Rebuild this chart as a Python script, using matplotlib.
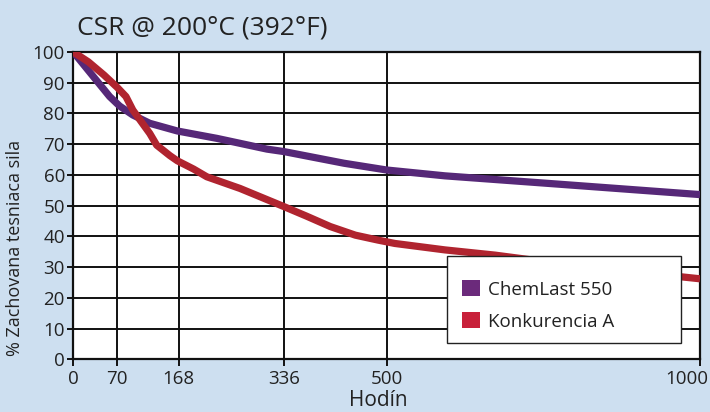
import matplotlib
matplotlib.use("Agg")
import matplotlib.pyplot as plt
from matplotlib.patches import Patch, Rectangle
from matplotlib.transforms import ScaledTranslation

plt.rcParams['font.family'] = ['Open Sans', 'DejaVu Sans']

title = "CSR @ 200°C (392°F)"
ylabel = "% Zachovana tesniaca sila"
xlabel = "Hodín"
series_names = ["ChemLast 550", "Konkurencia A"]

xticks = [0, 70, 168, 336, 500, 1000]
yticks = [0, 10, 20, 30, 40, 50, 60, 70, 80, 90, 100]

chem_h = [0, 24, 58, 74, 95, 122, 166, 229, 309, 336, 432, 500, 593, 754, 1000]
chem_v = [100, 94, 85.5, 82.4, 79.5, 76.8, 74.3, 71.9, 68.4, 67.6, 63.8, 61.6, 59.7, 57.3, 53.6]

konk_h = [0, 24, 49, 70, 84, 95, 122, 133, 154, 166, 192, 213, 266, 336, 372, 410, 450, 486, 513, 593, 673, 800, 1000]
konk_v = [100, 96.8, 92.5, 88.5, 85.5, 81.1, 73.5, 69.7, 66.3, 64.6, 61.9, 59.4, 55.6, 49.7, 46.6, 43.2, 40.4, 38.8, 37.7, 35.6, 33.9, 30.5, 26.2]

bg = '#cddff0'
line_cols = ['#562878', '#b0242f']
leg_cols = ['#6b2a7b', '#c8213a']

fig = plt.figure(figsize=(7.1, 4.12), dpi=100, facecolor=bg)
W, H = 710, 412
L, R, T, B = 73.3, 700, 52, 359.3
ax = fig.add_axes([L / W, 1 - B / H, (R - L) / W, (B - T) / H])
ax.set_facecolor('white')

ax.plot(chem_h, chem_v, color=line_cols[0], lw=5.2, solid_joinstyle='round', solid_capstyle='butt', zorder=3)
ax.plot(konk_h, konk_v, color=line_cols[1], lw=5.2, solid_joinstyle='round', solid_capstyle='butt', zorder=4)

ax.set_xlim(0, 1000)
ax.set_ylim(0, 100)
ax.set_xticks(xticks)
ax.set_yticks(yticks)
ax.set_xticklabels([str(t) for t in xticks])
ax.set_yticklabels([str(t) for t in yticks])
ax.grid(True, color='#111111', lw=1.4, zorder=1)
ax.set_axisbelow(True)
for s in ax.spines.values():
    s.set_color('#111111')
    s.set_linewidth(1.6)
ax.tick_params(axis='both', colors='#111111', labelcolor='#222222', labelsize=13.5, width=1.4)
ax.tick_params(axis='y', length=4, pad=2)
ax.tick_params(axis='x', length=5, pad=3)

# last x tick label sits right-aligned near the figure edge
lastlab = ax.get_xticklabels()[-1]
lastlab.set_horizontalalignment('right')
lastlab.set_transform(lastlab.get_transform() + ScaledTranslation(8 / 100, 0, fig.dpi_scale_trans))

fig.text(77 / W, 1 - 28 / H, title, fontsize=19, color='#222222', ha='left', va='center')
fig.text(15 / W, 1 - 248 / H, ylabel, fontsize=13, color='#222222', rotation=90, ha='center', va='center')
fig.text(378 / W, 1 - 400 / H, xlabel, fontsize=15, color='#222222', ha='center', va='center')

# legend box
bx0 = (446.7 - L) / (R - L)
bx1 = (680.7 - L) / (R - L)
by0 = (B - 342.7) / (B - T)
by1 = (B - 256) / (B - T)
ax.add_patch(Rectangle((bx0, by0), bx1 - bx0, by1 - by0, transform=ax.transAxes,
                       facecolor='white', edgecolor='#222222', lw=1.0, zorder=6))
handles = [Patch(facecolor=c, edgecolor='none') for c in leg_cols]
leg = ax.legend(handles, series_names, loc='upper left',
                bbox_to_anchor=((462 - L) / (R - L), (B - 280) / (B - T)),
                frameon=False, fontsize=13.5, handlelength=0.95, handleheight=0.95,
                handletextpad=0.45, labelspacing=0.72, borderpad=0, borderaxespad=0)
leg.set_zorder(7)
for t in leg.get_texts():
    t.set_color('#222222')

fig.savefig('out.png', dpi=100, facecolor=bg)
